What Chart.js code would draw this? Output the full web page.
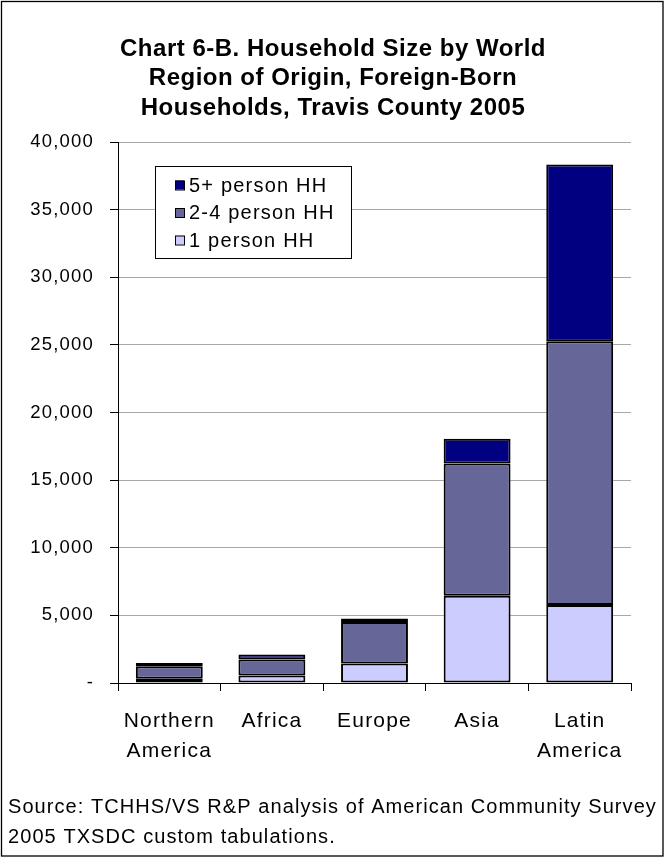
<!DOCTYPE html>
<html><head><meta charset="utf-8">
<script src="https://cdn.jsdelivr.net/npm/chart.js@4.4.0/dist/chart.umd.min.js"></script>
<style>html,body{margin:0;padding:0;background:#fff;}canvas{display:block;}</style>
</head><body>
<canvas id="c" width="665" height="858" style="width:665px;height:858px"></canvas>
<script>
// ---- data ----
const categories = [['Northern','America'], 'Africa', 'Europe', 'Asia', ['Latin','America']];
const onePersonHH = [320, 560, 1450, 6450, 5770];
const twoToFourPersonHH = [910, 1170, 3060, 9770, 19490];
const fivePlusPersonHH = [250, 370, 250, 1840, 13080];
const seriesLabels = ['1 person HH', '2-4 person HH', '5+ person HH'];
const titleLines = ['Chart 6-B. Household Size by World', 'Region of Origin, Foreign-Born', 'Households, Travis County 2005'];
const sourceLines = ['Source: TCHHS/VS R&P analysis of American Community Survey', '2005 TXSDC custom tabulations.'];
const yMin = 0, yMax = 40000, yStep = 5000;

const FONT = "'Liberation Sans', Arial, sans-serif";

const frame = {
  id: 'frame',
  beforeDraw(chart) {
    const ctx = chart.ctx;
    ctx.save();
    ctx.fillStyle = '#fff';
    ctx.fillRect(0, 0, chart.width, chart.height);
    ctx.restore();
    ctx.letterSpacing = '1.2px';
  },
  afterDraw(chart) {
    const ctx = chart.ctx;
    ctx.save();
    ctx.strokeStyle = '#000';
    ctx.lineWidth = 1.3;
    ctx.strokeRect(1.5, 1.5, 661.5, 854.5);
    ctx.fillStyle = '#000';
    // title
    ctx.letterSpacing = '0.5px';
    ctx.font = 'bold 24px ' + FONT;
    ctx.textAlign = 'center';
    ctx.textBaseline = 'middle';
    titleLines.forEach((t, i) => ctx.fillText(t, 333, 49 + i * 29.5));
    // footer
    ctx.letterSpacing = '1.07px';
    ctx.font = '20px ' + FONT;
    ctx.textAlign = 'left';
    ctx.textBaseline = 'alphabetic';
    ctx.fillText(sourceLines[0], 8, 813);
    ctx.fillText(sourceLines[1], 8, 843);
    ctx.restore();
  }
};

const boxLegend = {
  id: 'boxLegend',
  afterDatasetsDraw(chart) {
    const ctx = chart.ctx;
    ctx.save();
    ctx.letterSpacing = '1.2px';
    const x = 155.5, y = 166.5, w = 196, h = 92;
    ctx.fillStyle = '#fff';
    ctx.fillRect(x, y, w, h);
    ctx.strokeStyle = '#000';
    ctx.lineWidth = 1;
    ctx.strokeRect(x, y, w, h);
    const ds = chart.data.datasets.slice().reverse();
    ctx.font = '20px ' + FONT;
    ctx.textBaseline = 'middle';
    ds.forEach((d, i) => {
      const cy = 185 + i * 27.5;
      ctx.fillStyle = d.backgroundColor;
      ctx.fillRect(175, cy - 4.5, 9, 9);
      ctx.strokeStyle = '#000';
      ctx.strokeRect(175.5, cy - 4, 9, 9);
      ctx.fillStyle = '#000';
      ctx.fillText(d.label, 189, cy + 1);
    });
    ctx.restore();
  }
};

new Chart(document.getElementById('c'), {
  type: 'bar',
  data: {
    labels: categories,
    datasets: [
      { label: seriesLabels[0], data: onePersonHH, backgroundColor: '#CCCCFF' },
      { label: seriesLabels[1], data: twoToFourPersonHH, backgroundColor: '#666699' },
      { label: seriesLabels[2], data: fivePlusPersonHH, backgroundColor: '#000080' }
    ]
  },
  options: {
    responsive: false,
    animation: false,
    devicePixelRatio: 1,
    layout: { padding: { left: 10, right: 34, top: 142, bottom: 95 } },
    datasets: {
      bar: {
        borderColor: '#000',
        borderWidth: 2,
        borderSkipped: false,
        categoryPercentage: 1,
        barPercentage: 0.652
      }
    },
    plugins: {
      legend: { display: false },
      tooltip: { enabled: false },
      title: { display: false }
    },
    scales: {
      x: {
        stacked: true,
        grid: { display: true, drawOnChartArea: false, drawTicks: true, tickLength: 8, tickColor: '#000', offset: true },
        border: { color: '#000', width: 1 },
        ticks: { color: '#000', font: { family: FONT, size: 21, lineHeight: 1.45 }, padding: 15, maxRotation: 0, autoSkip: false },
        afterFit(s) { s.height = 80; }
      },
      y: {
        stacked: true,
        min: yMin, max: yMax,
        grid: { color: '#A8A8A8', tickColor: '#000', tickLength: 8 },
        border: { color: '#000', width: 1 },
        ticks: {
          stepSize: yStep,
          color: '#000',
          padding: 16,
          font: { family: FONT, size: 18.5 },
          callback: v => v === 0 ? '-' : v.toLocaleString('en-US')
        },
        afterFit(s) { s.width = 108; }
      }
    }
  },
  plugins: [frame, boxLegend]
});
</script>
</body></html>
